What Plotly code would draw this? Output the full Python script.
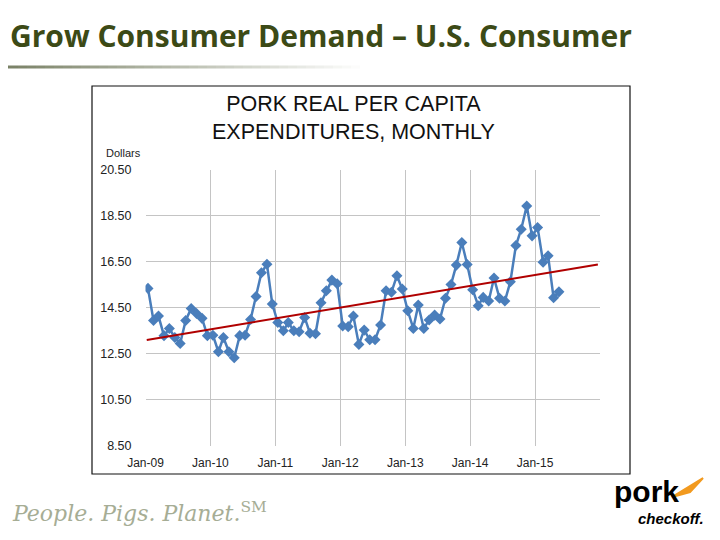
import plotly.graph_objects as go
import pandas as pd

# ---- data ----
months = pd.date_range("2009-01-01", periods=77, freq="MS") + pd.Timedelta(days=14)
expenditure = [
    15.34, 13.95, 14.14, 13.29, 13.60, 13.21, 12.95, 13.95, 14.47, 14.25, 14.04, 13.29,
    13.31, 12.59, 13.21, 12.59, 12.33, 13.29, 13.31, 13.99, 14.99, 16.02, 16.39, 14.66,
    13.86, 13.50, 13.86, 13.50, 13.46, 14.08, 13.39, 13.37, 14.72, 15.24, 15.70, 15.54,
    13.71, 13.68, 14.14, 12.91, 13.53, 13.11, 13.11, 13.75, 15.24, 15.17, 15.89, 15.31,
    14.37, 13.60, 14.62, 13.60, 13.97, 14.18, 14.01, 14.91, 15.51, 16.35, 17.33, 16.38,
    15.28, 14.59, 14.95, 14.79, 15.79, 14.91, 14.79, 15.63, 17.20, 17.91, 18.92, 17.62,
    17.98, 16.48, 16.76, 14.93, 15.19,
]
trend_x = ["2009-01-08", "2015-12-20"]
trend_y = [13.10, 16.38]

y_ticks = [8.5, 10.5, 12.5, 14.5, 16.5, 18.5, 20.5]
x_tickvals = ["2009-01-01", "2010-01-01", "2011-01-01", "2012-01-01", "2013-01-01",
              "2014-01-01", "2015-01-01", "2016-01-01"]
x_ticktext = ["Jan-09", "Jan-10", "Jan-11", "Jan-12", "Jan-13", "Jan-14", "Jan-15", " "]

W, H = 720, 540
OFF = 8  # page body margin in the browser


def px(x):
    return (x - OFF) / W


def py(y):
    return (H - (y - OFF)) / H


fig = go.Figure()

fig.add_trace(go.Scatter(
    x=list(months), y=expenditure, mode="lines+markers",
    line=dict(color="#4A7EBB", width=2.5),
    marker=dict(symbol="diamond", size=8.5, color="#4A7EBB"),
    showlegend=False, hoverinfo="x+y",
))
fig.add_trace(go.Scatter(
    x=trend_x, y=trend_y, mode="lines",
    line=dict(color="#B00000", width=2),
    showlegend=False, hoverinfo="skip",
))

p_l, p_r, p_t, p_b = 145.5, 600, 169.5, 446
fig.update_layout(
    width=W, height=H, autosize=False,
    margin=dict(l=0, r=0, t=0, b=0, pad=0),
    paper_bgcolor="white", plot_bgcolor="white",
    font=dict(family="Liberation Sans, Arial, sans-serif", color="#222222"),
    xaxis=dict(
        domain=[px(p_l), px(p_r)], type="date", automargin=False,
        range=["2009-01-01", "2016-01-01"],
        tickmode="array", tickvals=x_tickvals, ticktext=x_ticktext,
        showgrid=True, gridcolor="#C4C4C4", gridwidth=1,
        showline=False, zeroline=False, ticks="", ticklabelstandoff=8,
        tickfont=dict(size=12, color="#222222"),
    ),
    yaxis=dict(
        domain=[py(p_b), py(p_t)], automargin=False,
        range=[8.5, 20.5],
        tickmode="array", tickvals=y_ticks, tickformat=".2f",
        showgrid=True, gridcolor="#C4C4C4", gridwidth=1,
        showline=False, zeroline=False, ticks="", ticklabelstandoff=13,
        tickfont=dict(size=12.5, color="#222222"),
    ),
)

shapes = []
# chart frame
shapes.append(dict(type="rect", xref="paper", yref="paper",
                   x0=px(92), x1=px(630), y0=py(474), y1=py(86),
                   line=dict(color="#111111", width=1.2), fillcolor="rgba(0,0,0,0)",
                   layer="below"))
# fading underline below slide title
n = 40
for i in range(n):
    x0 = max(OFF, i * 360 / n)
    x1 = (i + 1) * 360 / n
    op = max(0.0, 1 - i / n)
    shapes.append(dict(type="line", xref="paper", yref="paper",
                       x0=px(x0), x1=px(x1), y0=py(67), y1=py(67),
                       line=dict(color=f"rgba(120,128,100,{op:.3f})", width=3)))
# orange tick of the logo
shapes.append(dict(type="path", xref="paper", yref="paper",
                   path=f"M {px(672)} {py(497)} L {px(703)} {py(478)} L {px(690)} {py(492)} Z",
                   line=dict(color="#F29A1F", width=2), fillcolor="#F29A1F"))
fig.update_layout(shapes=shapes)

ann = []
ann.append(dict(text="<b>Grow Consumer Demand – U.S. Consumer</b>", x=0, y=py(35),
                xref="paper", yref="paper", xanchor="left", yanchor="middle",
                showarrow=False, font=dict(family="Open Sans, sans-serif", size=30, color="#3C4A16")))
ann.append(dict(text="PORK REAL PER CAPITA<br>EXPENDITURES, MONTHLY", x=px(353), y=py(118),
                xref="paper", yref="paper", xanchor="center", yanchor="middle",
                showarrow=False, align="center",
                font=dict(family="Liberation Sans, Arial, sans-serif", size=21.5, color="#111111")))
ann.append(dict(text="Dollars", x=px(104), y=py(153),
                xref="paper", yref="paper", xanchor="left", yanchor="middle",
                showarrow=False, font=dict(size=11, color="#222222")))
ann.append(dict(text="<i>People. Pigs. Planet.</i><sup>SM</sup>", x=px(10), y=py(512),
                xref="paper", yref="paper", xanchor="left", yanchor="middle",
                showarrow=False, font=dict(family="DejaVu Serif, serif", size=22, color="#A6AD95")))
ann.append(dict(text="<b>pork</b>", x=px(612), y=py(491),
                xref="paper", yref="paper", xanchor="left", yanchor="middle",
                showarrow=False, font=dict(family="Liberation Sans, Arial, sans-serif", size=30, color="#000000")))
ann.append(dict(text="<b><i>checkoff.</i></b>", x=px(706), y=py(518),
                xref="paper", yref="paper", xanchor="right", yanchor="middle",
                showarrow=False, font=dict(family="Liberation Sans, Arial, sans-serif", size=15, color="#000000")))
fig.update_layout(annotations=ann)

fig.write_html("out.html")
